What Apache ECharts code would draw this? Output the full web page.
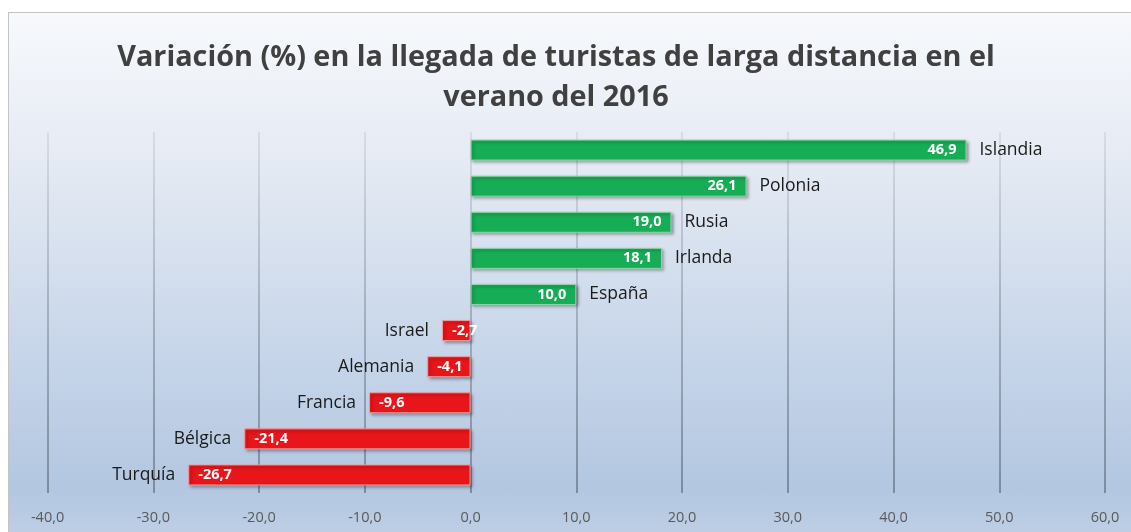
<!DOCTYPE html>
<html>
<head>
<meta charset="utf-8">
<script src="https://cdn.jsdelivr.net/npm/echarts@6/dist/echarts.min.js"></script>
<style>
  html, body { margin: 0; padding: 0; background: #fff; }
  #frame {
    position: absolute; left: 8px; top: 12px; width: 1140px; height: 540px;
    border: 1px solid #c4c4c4;
    background: linear-gradient(to bottom, #f7f9fc 0%, #e3e9f3 30%, #c9d7ea 60%, #b3c7e1 88%, #c2d1e6 100%);
  }
  #chart { position: absolute; left: 0; top: 0; width: 1131px; height: 532px; }
</style>
</head>
<body>
<div id="frame"></div>
<div id="chart"></div>
<script>
// datos
const paises = ['Islandia', 'Polonia', 'Rusia', 'Irlanda', 'España', 'Israel', 'Alemania', 'Francia', 'Bélgica', 'Turquía'];
const variacion = [46.9, 26.1, 19.0, 18.1, 10.0, -2.7, -4.1, -9.6, -21.4, -26.7];
const titulo = 'Variación (%) en la llegada de turistas de larga distancia en el\nverano del 2016';

const verde = '#17ad56';
const rojo = '#e8151a';
const fmt = v => v.toFixed(1).replace('.', ',');

let myChart = echarts.init(document.getElementById('chart'));

const barras = variacion.map(v => ({
  value: v,
  itemStyle: {
    color: v >= 0 ? verde : rojo,
    borderColor: v >= 0 ? '#8fd6a8' : '#f39a9a'
  },
  label: { position: v >= 0 ? 'insideRight' : 'insideLeft' }
}));

const nombres = variacion.map((v, i) => ({
  value: v,
  label: { position: v >= 0 ? 'right' : 'left', formatter: paises[i] }
}));

const option = {
  backgroundColor: 'transparent',
  animation: false,
  title: {
    text: titulo,
    left: 551,
    top: 33,
    textAlign: 'center',
    textStyle: {
      fontFamily: 'Open Sans',
      fontWeight: 'bold',
      fontSize: 28.8,
      lineHeight: 40,
      color: '#404040'
    }
  },
  grid: {
    left: 47.6,
    right: 26,
    top: 132,
    bottom: 39
  },
  xAxis: {
    type: 'value',
    min: -40,
    max: 60,
    interval: 10,
    axisLine: { show: false },
    axisTick: { show: false },
    axisLabel: {
      formatter: fmt,
      color: '#595959',
      fontFamily: 'Open Sans',
      fontSize: 14.5,
      margin: 17
    },
    splitLine: {
      show: true,
      lineStyle: {
        width: 1.5,
        color: {
          type: 'linear', x: 0, y: 0, x2: 0, y2: 1,
          colorStops: [
            { offset: 0, color: '#d2d7df' },
            { offset: 0.5, color: '#95a0b0' },
            { offset: 1, color: '#6a7788' }
          ]
        }
      }
    }
  },
  yAxis: {
    type: 'category',
    data: paises,
    inverse: true,
    axisLine: { show: false },
    axisTick: { show: false },
    axisLabel: { show: false },
    splitLine: { show: false }
  },
  series: [
    {
      type: 'bar',
      data: barras,
      barWidth: 21,
      itemStyle: {
        borderWidth: 1,
        shadowColor: 'rgba(0,0,0,0.35)',
        shadowBlur: 3,
        shadowOffsetX: 2,
        shadowOffsetY: 2
      },
      label: {
        show: true,
        formatter: p => fmt(p.value),
        color: '#fff',
        fontWeight: 'bold',
        fontFamily: 'Open Sans',
        fontSize: 14.5,
        distance: 10
      },
      z: 3
    },
    {
      type: 'bar',
      data: nombres,
      barWidth: 21,
      barGap: '-100%',
      itemStyle: { color: 'transparent' },
      label: {
        show: true,
        color: '#1a1a1a',
        fontFamily: 'Open Sans',
        fontSize: 17.5,
        distance: 13
      },
      silent: true,
      z: 4
    }
  ]
};
myChart.setOption(option);
</script>
</body>
</html>
